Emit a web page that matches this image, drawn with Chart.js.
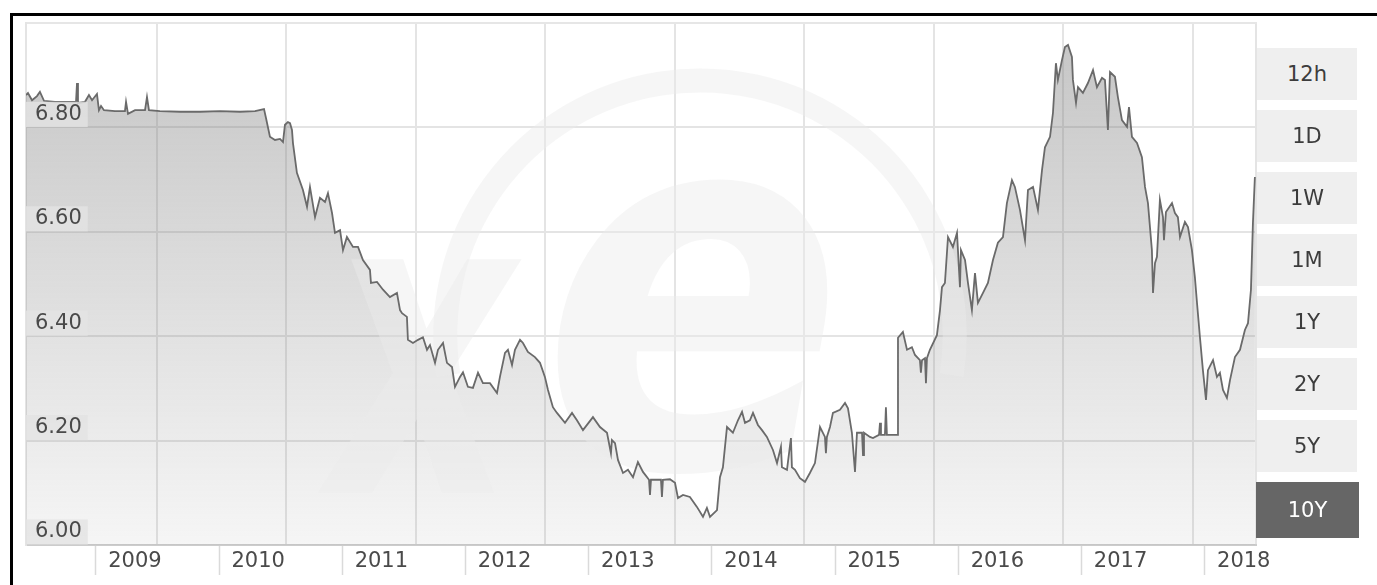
<!DOCTYPE html>
<html>
<head>
<meta charset="utf-8">
<title>USD / CNY - 10Y</title>
<script src="https://cdn.jsdelivr.net/npm/chart.js@4.4.1/dist/chart.umd.min.js"></script>
<style>
  html, body { margin: 0; padding: 0; background: #fff; }
  #wrap { position: relative; width: 1377px; height: 585px; overflow: hidden; }
  #frame { position: absolute; left: 10px; top: 13px; width: 1400px; height: 600px;
           border-left: 3px solid #000; border-top: 3px solid #000; }
  #rates { position: absolute; left: 0; top: 0; }
  .range { position: absolute; left: 1257px; width: 100px; height: 52px; background: #efefef;
           color: #3c3c3c; font: 21px "DejaVu Sans", sans-serif; line-height: 52px; text-align: center; }
  .range.on { left: 1256px; width: 103px; height: 56px; line-height: 56px; background: #666; color: #fff; }
</style>
</head>
<body>
<div id="wrap">
  <div id="frame"></div>
  <canvas id="rates" width="1377" height="585"></canvas>
  <div id="ranges"></div>
</div>
<script>
// USD/CNY closing rates, dates as decimal years

const years = [
    2008.432, 2008.448, 2008.481, 2008.521, 2008.545, 2008.578, 2008.667, 2008.789, 2008.838, 2008.846, 2008.854, 2008.911, 2008.943, 2008.968,
    2009.008, 2009.024, 2009.041, 2009.065, 2009.154, 2009.235, 2009.244, 2009.260, 2009.317, 2009.398, 2009.414, 2009.430, 2009.519, 2009.682, 2009.844,
    2010.006, 2010.169, 2010.291, 2010.364, 2010.380, 2010.412, 2010.453, 2010.494, 2010.518, 2010.534, 2010.558, 2010.575, 2010.591, 2010.599, 2010.631, 2010.680, 2010.713, 2010.737, 2010.778, 2010.818, 2010.859, 2010.883, 2010.916, 2010.940, 2010.981,
    2011.005, 2011.037, 2011.086, 2011.127, 2011.167, 2011.224, 2011.232, 2011.281, 2011.330, 2011.386, 2011.443, 2011.468, 2011.484, 2011.524, 2011.532, 2011.573, 2011.614, 2011.654, 2011.687, 2011.711, 2011.752, 2011.776, 2011.817, 2011.849, 2011.890, 2011.914, 2011.955, 2011.979,
    2012.019, 2012.060, 2012.101, 2012.141, 2012.198, 2012.255, 2012.279, 2012.320, 2012.344, 2012.377, 2012.401, 2012.442, 2012.466, 2012.506, 2012.563, 2012.604, 2012.644, 2012.669, 2012.709, 2012.742, 2012.807, 2012.864, 2012.904, 2012.953,
    2013.034, 2013.091, 2013.148, 2013.180, 2013.188, 2013.213, 2013.237, 2013.278, 2013.318, 2013.359, 2013.399, 2013.440, 2013.489, 2013.497, 2013.505, 2013.554, 2013.586, 2013.594, 2013.602, 2013.659, 2013.700, 2013.724, 2013.765, 2013.821, 2013.878, 2013.927, 2013.959, 2013.984,
    2014.041, 2014.065, 2014.089, 2014.122, 2014.170, 2014.211, 2014.244, 2014.268, 2014.308, 2014.333, 2014.373, 2014.406, 2014.446, 2014.495, 2014.528, 2014.560, 2014.568, 2014.609, 2014.641, 2014.649, 2014.674, 2014.714, 2014.755, 2014.795, 2014.836, 2014.877, 2014.917, 2014.925, 2014.933, 2014.958, 2014.982,
    2015.039, 2015.080, 2015.104, 2015.136, 2015.161, 2015.177, 2015.218, 2015.226, 2015.234, 2015.282, 2015.307, 2015.356, 2015.364, 2015.372, 2015.404, 2015.412, 2015.420, 2015.502, 2015.510, 2015.550, 2015.583, 2015.623, 2015.648, 2015.688, 2015.696, 2015.705, 2015.729, 2015.737, 2015.745, 2015.769, 2015.826, 2015.851, 2015.867, 2015.891, 2015.916, 2015.956, 2015.989,
    2016.013, 2016.021, 2016.054, 2016.078, 2016.110, 2016.135, 2016.159, 2016.200, 2016.240, 2016.281, 2016.321, 2016.362, 2016.394, 2016.435, 2016.459, 2016.500, 2016.541, 2016.565, 2016.606, 2016.646, 2016.679, 2016.703, 2016.744, 2016.768, 2016.792, 2016.808, 2016.841, 2016.865, 2016.890, 2016.922, 2016.930, 2016.955, 2016.971,
    2017.011, 2017.052, 2017.093, 2017.125, 2017.166, 2017.190, 2017.214, 2017.231, 2017.271, 2017.295, 2017.328, 2017.369, 2017.385, 2017.409, 2017.450, 2017.490, 2017.515, 2017.539, 2017.571, 2017.580, 2017.596, 2017.612, 2017.636, 2017.661, 2017.669, 2017.685, 2017.734, 2017.758, 2017.782, 2017.799, 2017.839, 2017.864, 2017.896, 2017.920, 2017.937, 2017.961, 2017.985,
    2018.010, 2018.026, 2018.067, 2018.099, 2018.123, 2018.148, 2018.180, 2018.205, 2018.245, 2018.286, 2018.326, 2018.351, 2018.375, 2018.391, 2018.407
];

const rates = [
    6.862, 6.866, 6.852, 6.860, 6.868, 6.851, 6.849, 6.849, 6.849, 6.885, 6.847, 6.849, 6.862, 6.852,
    6.864, 6.833, 6.841, 6.833, 6.831, 6.831, 6.849, 6.826, 6.833, 6.833, 6.858, 6.833, 6.831, 6.830, 6.830,
    6.831, 6.830, 6.831, 6.835, 6.818, 6.782, 6.776, 6.778, 6.772, 6.805, 6.810, 6.808, 6.795, 6.770, 6.713, 6.680, 6.648, 6.686, 6.628, 6.665, 6.657, 6.674, 6.636, 6.598, 6.603,
    6.565, 6.590, 6.571, 6.571, 6.546, 6.527, 6.502, 6.504, 6.489, 6.475, 6.483, 6.450, 6.444, 6.437, 6.393, 6.387, 6.393, 6.398, 6.374, 6.383, 6.349, 6.374, 6.387, 6.349, 6.341, 6.303, 6.322, 6.331,
    6.303, 6.301, 6.330, 6.310, 6.310, 6.291, 6.322, 6.368, 6.374, 6.345, 6.374, 6.393, 6.387, 6.370, 6.360, 6.349, 6.322, 6.297, 6.264, 6.253, 6.234, 6.253, 6.239, 6.220,
    6.245, 6.226, 6.215, 6.176, 6.201, 6.195, 6.163, 6.138, 6.144, 6.130, 6.159, 6.140, 6.125, 6.096, 6.125, 6.125, 6.125, 6.092, 6.125, 6.126, 6.119, 6.090, 6.096, 6.092, 6.073, 6.054, 6.071, 6.054,
    6.067, 6.130, 6.149, 6.226, 6.215, 6.239, 6.255, 6.234, 6.239, 6.253, 6.230, 6.220, 6.207, 6.182, 6.157, 6.188, 6.149, 6.144, 6.205, 6.149, 6.144, 6.128, 6.121, 6.138, 6.157, 6.226, 6.207, 6.176, 6.207, 6.226, 6.253,
    6.259, 6.272, 6.262, 6.215, 6.140, 6.215, 6.215, 6.172, 6.215, 6.207, 6.205, 6.211, 6.234, 6.211, 6.211, 6.264, 6.211, 6.211, 6.397, 6.408, 6.374, 6.379, 6.364, 6.354, 6.330, 6.354, 6.358, 6.310, 6.358, 6.374, 6.402, 6.450, 6.494, 6.502, 6.590, 6.571, 6.598,
    6.494, 6.565, 6.546, 6.502, 6.450, 6.521, 6.464, 6.483, 6.502, 6.546, 6.579, 6.590, 6.655, 6.699, 6.686, 6.642, 6.584, 6.680, 6.686, 6.642, 6.718, 6.762, 6.782, 6.828, 6.923, 6.891, 6.929, 6.954, 6.958, 6.935, 6.891, 6.847, 6.877,
    6.866, 6.885, 6.910, 6.877, 6.895, 6.891, 6.795, 6.906, 6.897, 6.858, 6.814, 6.801, 6.839, 6.782, 6.770, 6.743, 6.686, 6.655, 6.565, 6.483, 6.540, 6.552, 6.661, 6.628, 6.584, 6.638, 6.655, 6.636, 6.628, 6.590, 6.619, 6.609, 6.565, 6.513, 6.464, 6.398, 6.335,
    6.278, 6.335, 6.354, 6.322, 6.330, 6.297, 6.282, 6.316, 6.360, 6.374, 6.412, 6.425, 6.489, 6.617, 6.705
];

const yearTicks = [2009, 2010, 2011, 2012, 2013, 2014, 2015, 2016, 2017, 2018];
const gridYears = [2009.495, 2010.546, 2011.597, 2012.648, 2013.700, 2014.751, 2015.802, 2016.853, 2017.904];
const rateTicks = [6.0, 6.2, 6.4, 6.6, 6.8];
const ranges = ['12h', '1D', '1W', '1M', '1Y', '2Y', '5Y', '10Y'];
const activeRange = '10Y';

const xMin = 2008.432;
const xMax = 2018.416;
const yMin = 6.0;
const yMax = 7.0;

// RANGE BUTTONS

const rangeBox = document.getElementById('ranges');
ranges.forEach((r, i) => {
    const b = document.createElement('div');
    b.className = 'range' + (r === activeRange ? ' on' : '');
    b.style.top = (48 + i * 62) + 'px';
    b.innerText = r;
    rangeBox.appendChild(b);
});

// AREA GRADIENT

function areaFill(context) {
    const area = context.chart.chartArea;
    if (!area) {
        return 'rgba(120,120,120,0.2)';
    }
    const g = context.chart.ctx.createLinearGradient(0, area.top, 0, area.bottom);
    g.addColorStop(0, 'rgba(120,120,120,0.43)');
    g.addColorStop(1, 'rgba(120,120,120,0.07)');
    return g;
}

// faint logo behind the line, drawn right after the area fill

function drawGlyph(ctx, ch, left, top, w, h) {
    ctx.save();
    ctx.font = 'bold oblique 100px "DejaVu Sans"';
    const m = ctx.measureText(ch);
    const gw = m.actualBoundingBoxLeft + m.actualBoundingBoxRight;
    const gh = m.actualBoundingBoxAscent + m.actualBoundingBoxDescent;
    ctx.translate(left, top);
    ctx.scale(w / gw, h / gh);
    ctx.textAlign = 'left';
    ctx.textBaseline = 'alphabetic';
    ctx.fillText(ch, m.actualBoundingBoxLeft, m.actualBoundingBoxAscent);
    ctx.restore();
}

const watermark = {
    id: 'watermark',
    beforeDatasetDraw(chart) {
        const { ctx, chartArea: a } = chart;
        const w = a.right - a.left;
        const h = a.bottom - a.top;
        ctx.save();
        ctx.beginPath();
        ctx.rect(a.left, a.top, w, h);
        ctx.clip();
        ctx.strokeStyle = 'rgba(234,234,234,0.45)';
        ctx.fillStyle = 'rgba(234,234,234,0.45)';
        ctx.lineWidth = 24;
        ctx.beginPath();
        ctx.arc(a.left + 0.548 * w, a.top + 0.598 * h, 0.488 * h, Math.PI * 0.95, Math.PI * 2.05);
        ctx.stroke();
        drawGlyph(ctx, 'e', a.left + 0.43 * w, a.top + 0.29 * h, 0.225 * w, 0.57 * h);
        drawGlyph(ctx, 'x', a.left + 0.235 * w, a.top + 0.45 * h, 0.17 * w, 0.45 * h);
        ctx.restore();
    }
};

// CHART

const points = years.map((y, i) => ({ x: y, y: rates[i] }));
const labelFont = { family: 'DejaVu Sans', size: 21 };

new Chart(document.getElementById('rates'), {
    type: 'line',
    data: {
        datasets: [{
            label: 'USD/CNY',
            data: points,
            xAxisID: 'x',
            yAxisID: 'y',
            borderColor: '#6a6a6a',
            borderWidth: 1.8,
            backgroundColor: areaFill,
            fill: 'origin',
            pointRadius: 0,
            tension: 0
        }]
    },
    options: {
        responsive: false,
        animation: false,
        events: [],
        layout: {
            padding: { left: 26, top: 23, right: 121, bottom: 0 }
        },
        plugins: {
            legend: { display: false },
            tooltip: { enabled: false },
            filler: { drawTime: 'beforeDatasetDraw' }
        },
        scales: {
            x: {
                type: 'linear',
                position: 'bottom',
                min: xMin,
                max: xMax,
                afterBuildTicks: s => { s.ticks = yearTicks.map(v => ({ value: v })); },
                afterFit: s => { s.height = 40; },
                grid: {
                    drawOnChartArea: false,
                    drawTicks: true,
                    tickLength: 30,
                    tickColor: '#dadada',
                    tickWidth: 1.5
                },
                border: { display: true, color: '#cccccc', width: 2 },
                ticks: {
                    autoSkip: false,
                    maxRotation: 0,
                    padding: -26,
                    labelOffset: 39,
                    color: '#4a4a4a',
                    font: labelFont,
                    callback: v => String(v)
                }
            },
            xg: {
                type: 'linear',
                position: 'top',
                min: xMin,
                max: xMax,
                afterBuildTicks: s => { s.ticks = gridYears.concat([xMax]).map(v => ({ value: v })); },
                afterFit: s => { s.height = 0; },
                grid: { color: '#e4e4e4', lineWidth: 2, drawTicks: false },
                border: { display: true, color: '#e6e6e6', width: 2 },
                ticks: { display: false }
            },
            y: {
                type: 'linear',
                position: 'left',
                min: yMin,
                max: yMax,
                afterBuildTicks: s => { s.ticks = rateTicks.map(v => ({ value: v })); },
                afterFit: s => { s.width = 0; },
                grid: { color: '#e4e4e4', lineWidth: 2, drawTicks: false },
                border: { display: true, color: '#e4e4e4', width: 2 },
                ticks: {
                    mirror: true,
                    z: 1,
                    padding: 9,
                    labelOffset: -13,
                    color: '#4a4a4a',
                    font: labelFont,
                    showLabelBackdrop: true,
                    backdropColor: 'rgba(228,228,228,0.8)',
                    backdropPadding: { left: 9, right: 6, top: 0, bottom: 0 },
                    callback: v => v.toFixed(2)
                }
            }
        }
    },
    plugins: [watermark]
});
</script>
</body>
</html>
